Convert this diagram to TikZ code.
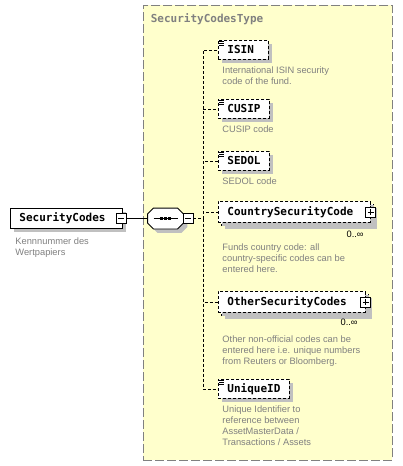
\documentclass[tikz,border=0pt]{standalone}
\usepackage{fontspec}
\setmainfont{Liberation Sans}
\setmonofont{DejaVu Sans Mono}
\usetikzlibrary{positioning, shadows}

\definecolor{typefill}{RGB}{255,255,204}
\definecolor{typeline}{RGB}{128,128,128}
\definecolor{notegray}{RGB}{128,128,128}
\definecolor{shadowgray}{RGB}{192,192,192}

\begin{document}
\begin{tikzpicture}[
  x=1pt, y=-1pt, line width=0.9pt,
  elname/.style={font=\fontsize{11}{13}\selectfont\ttfamily\bfseries},
  note/.style={font=\fontsize{9.3}{11}\selectfont, text=notegray, align=left, anchor=north west, inner sep=0pt},
  dropsh/.style={drop shadow={shadow xshift=4pt, shadow yshift=-4pt, fill=shadowgray, opacity=1}},
  elem/.style={elname, draw, dash pattern=on 3pt off 2pt, fill=white, dropsh, anchor=north west,
    align=left, inner xsep=9pt, inner ysep=0pt, minimum height=19pt},
  simple/.style={elem, path picture={
    \foreach \d in {1,3,5}
      \draw[solid, line width=0.8pt] ([shift={(1,\d)}]path picture bounding box.north west) -- ++(5,0);}},
  minusbox/.style={draw, solid, fill=white, minimum size=10pt, inner sep=0pt, path picture={
    \draw ([xshift=2pt]path picture bounding box.west) -- ([xshift=-2pt]path picture bounding box.east);}},
  plusbox/.style={minusbox, path picture={
    \draw ([xshift=2pt]path picture bounding box.west) -- ([xshift=-2pt]path picture bounding box.east);
    \draw ([yshift=-2pt]path picture bounding box.north) -- ([yshift=2pt]path picture bounding box.south);}},
  seqbox/.style={minimum width=35pt, minimum height=20pt, inner sep=0pt},
  conn/.style={dash pattern=on 3pt off 2pt},
  multi/.style={note, text=black, anchor=east}
]
  \useasboundingbox[fill=white] (0,0) rectangle (402,466);

  % complex type area
  \node[draw=typeline, dash pattern=on 9pt off 3pt, fill=typefill, anchor=north west,
        minimum width=249pt, minimum height=455pt, inner sep=0pt] (sctype) at (143,5) {};
  \node[elname, text=typeline, anchor=west] (sctitle) at (147,19) {SecurityCodesType};

  % root element
  \node[elname, draw, fill=white, dropsh, anchor=north west, align=left, text width=94pt,
        inner xsep=9pt, inner ysep=0pt, minimum height=20pt] (sc) at (10,208) {SecurityCodes};
  \node[minusbox] (scm) at (121,218.5) {};
  \node[note] (scnote) at (15,237) {Kennnummer des\\Wertpapiers};

  % sequence
  \node[seqbox] (seq) at (165.5,218.5) {};
  \draw[fill=white, dropsh] ([shift={(6,0)}]seq.north west) -- ([shift={(-6,0)}]seq.north east)
    -- ([shift={(0,6)}]seq.north east) -- ([shift={(0,-6)}]seq.south east)
    -- ([shift={(-6,0)}]seq.south east) -- ([shift={(6,0)}]seq.south west)
    -- ([shift={(0,-6)}]seq.south west) -- ([shift={(0,6)}]seq.north west) -- cycle;
  \draw ([xshift=-12pt]seq.center) -- ([xshift=12pt]seq.center);
  \foreach \d in {-4,0,4}
    \fill ([xshift=\d pt]seq.center) +(-1.5,-1.5) rectangle +(1.5,1.5);
  \node[minusbox] (seqm) at (188,218.5) {};
  \draw (scm) -- (seq);
  \coordinate (bus) at (203,218.5);

  % children
  \node[simple, text width=32pt] (isin) at (218,40) {ISIN};
  \node[note] (isinnote) at (222,66) {International ISIN security\\code of the fund.};

  \node[simple, text width=33pt] (cusip) at (218,99) {CUSIP};
  \node[note] (cusipnote) at (222,125) {CUSIP code};

  \node[simple, text width=33pt] (sedol) at (218,151) {SEDOL};
  \node[note] (sedolnote) at (222,177) {SEDOL code};

  \node[elem, text width=134pt, minimum height=21pt] (cscback) at (221,204) {};
  \node[elem, text width=134pt, minimum height=21pt, drop shadow={opacity=0}] (csc) at (218,201) {CountrySecurityCode};
  \node[plusbox] (cscp) at (csc.east) {};
  \node[multi] (cscmult) at (364,234) {0..∞};
  \node[note] (cscnote) at (222,243) {Funds country code: all\\country-specific codes can be\\entered here.};

  \node[elem, text width=129pt, minimum height=21pt] (oscback) at (221,294) {};
  \node[elem, text width=129pt, minimum height=21pt, drop shadow={opacity=0}] (osc) at (218,291) {OtherSecurityCodes};
  \node[plusbox] (oscp) at (osc.east) {};
  \node[multi] (oscmult) at (358,322) {0..∞};
  \node[note] (oscnote) at (222,335) {Other non-official codes can be\\entered here i.e. unique numbers\\from Reuters or Bloomberg.};

  \node[simple, text width=53pt] (uid) at (218,379) {UniqueID};
  \node[note] (uidnote) at (222,405) {Unique Identifier to\\reference between\\AssetMasterData /\\Transactions / Assets};

  % connectors
  \draw[conn] (seqm.east) -- (bus);
  \foreach \c in {isin,cusip,sedol,csc,osc,uid}
    \draw[conn] (bus) |- (\c.west);
\end{tikzpicture}
\end{document}
